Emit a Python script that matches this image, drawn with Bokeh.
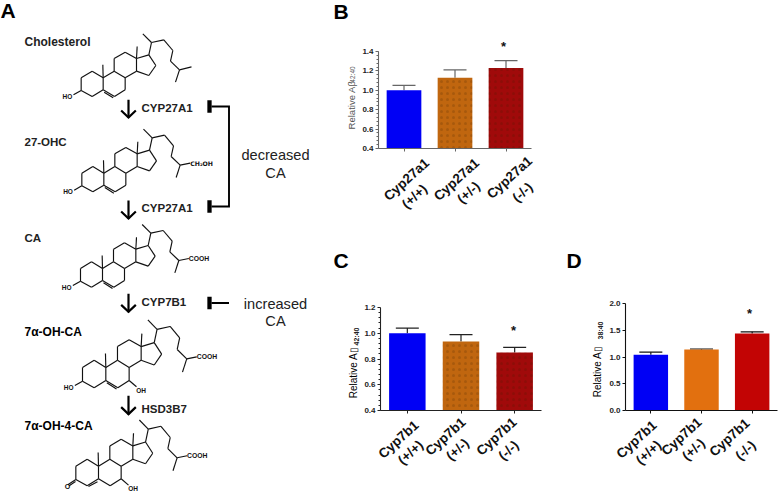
from bokeh.plotting import figure
from bokeh.embed import file_html
from bokeh.resources import INLINE
from bokeh.models import (ColumnDataSource, FixedTicker, Whisker, TeeHead,
                          NumeralTickFormatter, Range1d)
from bokeh.core.properties import value
import math

FONT = "Liberation Sans"

# ---------- chart data ----------
geno = ["(+/+)", "(+/-)", "(-/-)"]
b_gene = "Cyp27a1"
b_vals = [1.00, 1.13, 1.23]
b_tops = [1.05, 1.21, 1.305]
b_ticks = [0.4, 0.6, 0.8, 1.0, 1.2, 1.4]
c_gene = "Cyp7b1"
c_vals = [1.00, 0.935, 0.85]
c_tops = [1.04, 0.99, 0.89]
c_ticks = [0.4, 0.6, 0.8, 1.0, 1.2]
d_gene = "Cyp7b1"
d_vals = [1.04, 1.14, 1.44]
d_tops = [1.09, 1.15, 1.47]
d_ticks = [0.0, 0.5, 1.0, 1.5, 2.0]
bc_colors = ["#0000f5", "#c0660f", "#a00a0a"]
d_colors = ["#0000f5", "#e2700f", "#c20404"]


def make_chart(vals, tops, ticks, colors, minor, w, h, borders, pos, axis_col, hatch):
    l, r, t, b = borders
    p = figure(width=w, height=h, output_backend="svg", toolbar_location=None,
               x_range=Range1d(-0.5, 2.5), y_range=Range1d(ticks[0], ticks[-1]),
               min_border_left=l, min_border_right=r, min_border_top=t, min_border_bottom=b,
               outline_line_color=None, background_fill_color=None, border_fill_color=None,
               styles={"position": "absolute", "left": f"{pos[0]}px", "top": f"{pos[1]}px"})
    p.grid.visible = False
    src = ColumnDataSource(dict(x=[0, 1, 2], top=vals, upper=tops, color=colors))
    p.vbar(x="x", top="top", bottom=ticks[0], width=0.68, color="color", source=src, line_width=0)
    if hatch:
        hsrc = ColumnDataSource(dict(x=[1, 2], top=vals[1:]))
        p.vbar(x="x", top="top", bottom=ticks[0], width=0.68, source=hsrc, fill_alpha=0, line_width=0,
               hatch_pattern="dot", hatch_color="#3a1a00", hatch_alpha=0.18, hatch_scale=6, hatch_weight=1)
    p.add_layout(Whisker(source=src, base="x", lower="top", upper="upper", dimension="height",
                         line_color=axis_col, line_width=1.2, lower_head=None,
                         upper_head=TeeHead(size=23, line_color=axis_col, line_width=1.2)))
    xa, ya = p.xaxis[0], p.yaxis[0]
    xa.ticker = FixedTicker(ticks=[0, 1, 2])
    xa.major_label_overrides = {0: "", 1: "", 2: ""}
    ya.ticker = FixedTicker(ticks=ticks, minor_ticks=minor)
    ya.formatter = NumeralTickFormatter(format="0.0")
    ya.major_label_text_font = FONT
    ya.major_label_text_font_style = "bold"
    ya.major_label_text_font_size = "8px"
    ya.major_label_text_color = "#222222"
    ya.major_label_standoff = 2
    for a in (xa, ya):
        a.axis_line_color = axis_col
        a.axis_line_width = 1.1
        a.major_tick_line_color = axis_col
        a.major_tick_in = 0
        a.major_tick_out = 3
        a.minor_tick_line_color = axis_col
        a.minor_tick_in = 0
        a.minor_tick_out = 2 if a is ya else 0
    return p


def minors(lo, hi, step):
    n = round((hi - lo) / step)
    return [lo + step * i for i in range(n + 1)]


# ---------- left diagram ----------
BASE = dict(C1=(275, 212), C2=(242, 232), C3=(242, 270), C4=(275, 288), C5=(308, 268), C6=(342, 288),
            C7=(374, 268), C8=(374, 232), C9=(341, 212), C10=(308, 232), C11=(341, 174), C12=(374, 155),
            C13=(408, 174), C14=(408, 212), C15=(445, 225), C16=(466, 195), C17=(445, 163), C18=(410, 138),
            C19=(307, 193), C20=(453, 126), C21=(427, 100), C22=(490, 118), C23=(517, 150), C24=(510, 182),
            C25=(537, 208), C26=(573, 199), C27=(525, 245))
BONDS = [("C1", "C2"), ("C2", "C3"), ("C3", "C4"), ("C4", "C5"), ("C5", "C10"), ("C10", "C1"), ("C5", "C6"),
         ("C6", "C7"), ("C7", "C8"), ("C8", "C9"), ("C9", "C10"), ("C9", "C11"), ("C11", "C12"), ("C12", "C13"),
         ("C13", "C14"), ("C14", "C8"), ("C13", "C17"), ("C17", "C16"), ("C16", "C15"), ("C15", "C14"),
         ("C13", "C18"), ("C10", "C19"), ("C17", "C20"), ("C20", "C21"), ("C20", "C22"), ("C22", "C23"),
         ("C23", "C24"), ("C24", "C25"), ("C25", "C27")]

bg = figure(width=778, height=491, output_backend="svg", toolbar_location=None,
            x_range=Range1d(0, 778), y_range=Range1d(491, 0), min_border=0,
            outline_line_color=None, background_fill_color=None, border_fill_color=None,
            styles={"position": "absolute", "left": "0px", "top": "0px"})
bg.axis.visible = False
bg.grid.visible = False


def seg(pts, width=1.15, color="#111111", z=True):
    bg.line([a / 3 if z else a for a, _ in pts], [b / 3 if z else b for _, b in pts],
            line_width=width, line_color=color, line_cap="butt", line_join="miter")


def txt(x, y, s, size, bold=True, align="left", color="#111111", angle=0.0, font=FONT):
    bg.text([x], [y], text=[s], text_font=value(font), text_font_size=value(size),
            text_font_style="bold" if bold else "normal", text_align=align,
            text_baseline="middle", text_color=color, angle=angle)


def molecule(ox, oy, sx, sy, dbl=("C5", "C6"), tail=None, tail_label=None, ho=True, oh=None, keto=None):
    atoms = {k: (ox + (x - 242) * sx, oy + (y - 270) * sy) for k, (x, y) in BASE.items()}
    for a, b in BONDS:
        seg([atoms[a], atoms[b]])
    a, b = atoms[dbl[0]], atoms[dbl[1]]
    s = 1 if b[0] > a[0] else -1
    seg([(a[0] + s * 3, a[1] + 7 if s > 0 else a[1] + 9), (b[0] - s * 4, b[1] + 4 if s > 0 else b[1] + 2)])
    c3 = atoms["C3"]
    if ho:
        seg([c3, (c3[0] - 23, c3[1] + 13)])
        txt((c3[0] - 56) / 3, (c3[1] + 18) / 3, "HO", "6.5px")
    if tail:
        seg([atoms["C25"], (atoms["C25"][0] + 30, atoms["C25"][1] - 6)])
        if "\u2082" in tail_label:
            txt((atoms["C25"][0] + 30) / 3, (atoms["C25"][1] - 6) / 3, tail_label, "6.2px", font="DejaVu Sans")
        else:
            txt((atoms["C25"][0] + 30) / 3, (atoms["C25"][1] - 6) / 3, tail_label, "6.8px")
    else:
        seg([atoms["C25"], atoms["C26"]])
    if oh:
        c7 = atoms["C7"]
        seg([c7, (c7[0] + 22, c7[1] + 19)])
        txt((c7[0] + 21) / 3, (c7[1] + 30) / 3, "OH", "6.5px")
    if keto:
        c = atoms["C3"]
        seg([c, (c[0] - 24, c[1] + 16)])
        seg([(c[0] - 1, c[1] + 6), (c[0] - 20, c[1] + 19)])
        txt((c[0] - 33) / 3, (c[1] + 22) / 3, "O", "7px")
    return atoms


molecule(242, 270, 1, 1)
molecule(244, 556, 1, 1, tail=True, tail_label="CH\u2082OH")
molecule(240, 842, 1, 1, tail=True, tail_label="COOH")
molecule(246, 1142, 1.06, 1.08, tail=True, tail_label="COOH", oh=True)
molecule(226, 1437, 1.03, 1.05, dbl=("C5", "C4"), tail=True, tail_label="COOH", oh=True, ho=False, keto=True)

# pathway arrows
for top, bot in [(298, 352), (600, 655), (880, 935), (1186, 1242)]:
    seg([(384, top), (384, bot)], width=2.2, color="#000000")
    seg([(362, bot - 22), (384, bot - 1), (406, bot - 22)], width=2.2, color="#000000")

# inhibition bars
for y in [106, 206, 302.5]:
    bg.rect([209], [y], width=4.3, height=12.5, color="#000000", line_width=0)
seg([(211, 106), (228.5, 106), (228.5, 206), (211, 206)], width=1.9, color="#000000", z=False)
seg([(211, 302.5), (228.5, 302.5)], width=1.9, color="#000000", z=False)

for x, y, s, size, bold, align, col in [
    (24, 41, "Cholesterol", "12px", True, "left", "#222222"),
    (24, 141, "27-OHC", "11.5px", True, "left", "#222222"),
    (24, 237, "CA", "11.5px", True, "left", "#222222"),
    (24, 331, "7\u03b1-OH-CA", "12px", True, "left", "#000000"),
    (24, 425, "7\u03b1-OH-4-CA", "12px", True, "left", "#000000"),
    (141, 107, "CYP27A1", "11.5px", True, "left", "#222222"),
    (141, 207.5, "CYP27A1", "11.5px", True, "left", "#222222"),
    (141, 301.5, "CYP7B1", "11.5px", True, "left", "#222222"),
    (141, 408, "HSD3B7", "11.5px", True, "left", "#222222"),
    (275, 154, "decreased", "14.6px", False, "center", "#222222"),
    (275, 172, "CA", "14.6px", False, "center", "#222222"),
    (275, 303, "increased", "14.6px", False, "center", "#222222"),
    (275, 320, "CA", "14.6px", False, "center", "#222222"),
    (0, 10, "A", "21px", True, "left", "#000000"),
    (333, 11, "B", "21px", True, "left", "#000000"),
    (333, 260, "C", "21px", True, "left", "#000000"),
    (566, 260, "D", "21px", True, "left", "#000000"),
    (503, 46, "*", "13px", True, "center", "#111111"),
    (513, 330, "*", "13px", True, "center", "#111111"),
    (749, 313, "*", "13px", True, "center", "#111111"),
]:
    txt(x, y, s, size, bold, align, col)

# y axis titles with their subscript parts
V = math.pi / 2
for x, y, s, size, bold, col in [
    (351, 104.5, "Relative A\u03b2", "9.5px", False, "#555555"),
    (352, 74, "42:40", "6.5px", False, "#555555"),
    (352.7, 372, "Relative A\u25af", "10px", False, "#000000"),
    (356, 336, "42:40", "7px", True, "#222222"),
    (596.7, 371, "Relative A\u25af", "10px", False, "#000000"),
    (600, 330, "38:40", "7px", True, "#222222"),
]:
    txt(x, y, s, size, bold, "center", col, V)

# rotated category labels
ROT = math.radians(42)
for gene, gene_pos, geno_pos in [
    (b_gene, [(406, 179), (456, 179), (509, 177)], [(414, 196), (468, 192), (522, 192)]),
    (c_gene, [(398, 439), (445, 436), (496, 436)], [(410, 452), (457, 449), (508, 450)]),
    (d_gene, [(636, 439), (681, 436), (729, 437)], [(648, 452), (693, 449), (745, 450)]),
]:
    for i in range(3):
        txt(gene_pos[i][0], gene_pos[i][1], gene, "13.5px", True, "center", "#111111", ROT)
        txt(geno_pos[i][0], geno_pos[i][1], geno[i], "13.5px", True, "center", "#111111", ROT)

# ---------- bar charts ----------
chartB = make_chart(b_vals, b_tops, b_ticks, bc_colors, minors(0.4, 1.4, 0.04), 442, 240,
                    (42, 247, 51, 92), (336, 0), "#666666", True)
chartC = make_chart(c_vals, c_tops, c_ticks, bc_colors, minors(0.4, 1.2, 0.04), 222, 251,
                    (44, 17, 67, 81), (336, 240), "#222222", True)
chartD = make_chart(d_vals, d_tops, d_ticks, d_colors, [], 220, 251,
                    (67, 1, 63, 81), (558, 240), "#111111", False)

open("out.html", "w").write(file_html([bg, chartB, chartC, chartD], INLINE))
